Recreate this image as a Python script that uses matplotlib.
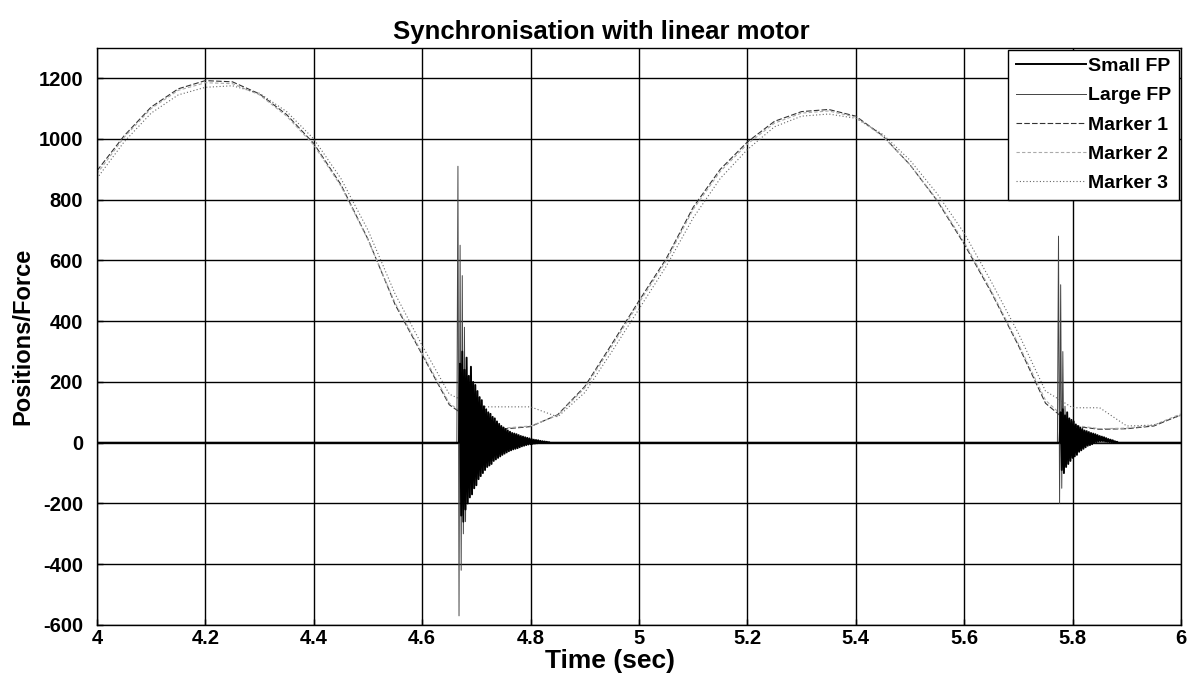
import numpy as np
import matplotlib
matplotlib.use("Agg")
from matplotlib import pyplot as plt
from matplotlib import rcParams

rcParams['font.family'] = 'sans-serif'
rcParams['font.sans-serif'] = ['Liberation Sans', 'DejaVu Sans']
rcParams['font.weight'] = 'bold'
rcParams['axes.unicode_minus'] = False

# marker positions, read every 0.05 s
marker_t = np.round(np.arange(4.0, 6.0001, 0.05), 3)
marker1 = [895, 1010, 1105, 1165, 1192, 1188, 1148, 1080, 985, 850,
           670, 455, 290, 125, 62, 45, 53, 92, 185, 325,
           467, 605, 775, 900, 990, 1058, 1090, 1097, 1075, 1010,
           915, 797, 654, 495, 320, 130, 55, 44, 46, 55, 92]
marker2 = [885, 1005, 1100, 1160, 1185, 1182, 1145, 1075, 980, 845,
           668, 460, 295, 130, 65, 48, 55, 90, 180, 318,
           460, 598, 768, 893, 983, 1052, 1085, 1092, 1072, 1008,
           915, 800, 660, 500, 325, 140, 58, 46, 48, 58, 95]
marker3 = [870, 990, 1085, 1145, 1170, 1175, 1150, 1090, 1000, 870,
           700, 490, 320, 160, 118, 118, 118, 85, 165, 300,
           440, 580, 740, 870, 965, 1040, 1075, 1082, 1068, 1015,
           930, 820, 690, 530, 360, 170, 115, 115, 55, 58, 90]

# force plate bursts (2 ms samples), flat ~0 elsewhere
small_b1_start = 4.668
small_b1 = [0, 260, -240, 300, -260, 240, -220, 280, -200, 220, -180, 250, -170, 200,
            -150, 190, -140, 170, -120, 150, -110, 140, -100, 120, -90, 110, -80, 100,
            -75, 95, -70, 85, -60, 80, -55, 70, -50, 62, -45, 55, -40, 50, -36, 45,
            -32, 40, -28, 36, -25, 32, -22, 30, -20, 28, -18, 25, -15, 22, -12, 20,
            -10, 18, -8, 16, -6, 14, -5, 12, -4, 10, -3, 9, -2, 8, -1, 6, 0, 5, 0, 4,
            0, 3, 0, 2, 0]
small_b2_start = 5.776
small_b2 = [0, 100, -90, 110, -100, 90, -80, 100, -70, 80, -60, 75, -50, 70, -45, 60,
            -40, 55, -30, 50, -25, 45, -20, 40, -15, 38, -10, 35, -8, 32, -5, 30, 0,
            28, 2, 25, 4, 22, 5, 20, 5, 18, 4, 15, 3, 12, 2, 10, 1, 8, 0, 5, 0, 3, 0]
large_b1_start = 4.664
large_b1 = [0, 910, -570, 650, -420, 550, -300, 380, -260, 250, -200, 200, -150, 180,
            -120, 150, -90, 120, -70, 90, -50, 70, -40, 55, -30, 45, -25, 35, -20, 28,
            -15, 22, -10, 18, -8, 14, -5, 10, -3, 6, 0]
large_b2_start = 5.772
large_b2 = [0, 680, -200, 520, -150, 300, -100, 120, -60, 90, -40, 60, -30, 40, -20,
            30, -10, 20, 0]
dt = 0.002

labels = ["Small FP", "Large FP", "Marker 1", "Marker 2", "Marker 3"]
xticks = [4, 4.2, 4.4, 4.6, 4.8, 5, 5.2, 5.4, 5.6, 5.8, 6]
xticklabels = ["4", "4.2", "4.4", "4.6", "4.8", "5", "5.2", "5.4", "5.6", "5.8", "6"]
yticks = np.arange(-600, 1201, 200)


def fp_series(b1_start, b1, b2_start, b2):
    t = np.concatenate([[4.0], b1_start + dt * np.arange(len(b1)),
                        b2_start + dt * np.arange(len(b2)), [6.0]])
    v = np.concatenate([[0], b1, b2, [0]])
    return t, v


fig = plt.figure(figsize=(11.91, 6.83), dpi=100)
ax = fig.add_axes([0.0814, 0.085, 0.9102, 0.845])

st, sv = fp_series(small_b1_start, small_b1, small_b2_start, small_b2)
lt, lv = fp_series(large_b1_start, large_b1, large_b2_start, large_b2)
ax.plot(st, sv, color='black', lw=1.4, label=labels[0], zorder=4)
ax.plot(lt, lv, color='#444444', lw=0.7, ls='-', label=labels[1], zorder=3)
ax.plot(marker_t, marker1, color='#333333', lw=0.8, ls=(0, (5, 2)), label=labels[2])
ax.plot(marker_t, marker2, color='#aaaaaa', lw=0.8, ls=(0, (3, 2)), label=labels[3])
ax.plot(marker_t, marker3, color='#666666', lw=0.8, ls=(0, (1, 2)), label=labels[4])

ax.set_xlim(4, 6)
ax.set_ylim(-600, 1300)
ax.set_xticks(xticks)
ax.set_xticklabels(xticklabels)
ax.set_yticks(yticks)
ax.tick_params(direction='in', labelsize=14.5, length=4, width=1, pad=3)
ax.tick_params(axis='y', pad=10)
ax.grid(True, color='black', lw=1.0, ls='-')
for sp in ax.spines.values():
    sp.set_linewidth(1.0)

ax.set_title("Synchronisation with linear motor", fontsize=18.5, fontweight='bold',
             x=0.465, pad=6)
ax.set_xlabel("Time (sec)", fontsize=19, fontweight='bold')
ax.xaxis.set_label_coords(0.473, -0.042)
ax.set_ylabel("Positions/Force", fontsize=17, fontweight='bold', labelpad=3)

leg = ax.legend(loc='upper right', fontsize=14, fancybox=False, edgecolor='black',
                framealpha=1, handlelength=3.6, handletextpad=0.1,
                borderaxespad=0.1, labelspacing=0.6)
leg.get_frame().set_linewidth(1.0)

fig.savefig('out.png', dpi=100)
